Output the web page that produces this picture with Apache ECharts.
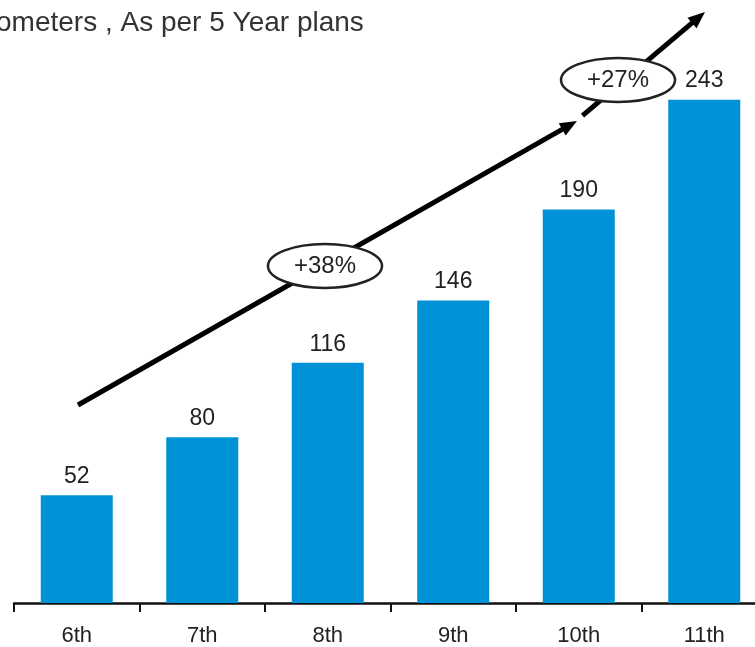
<!DOCTYPE html>
<html><head><meta charset="utf-8">
<script src="https://cdn.jsdelivr.net/npm/echarts@6/dist/echarts.min.js"></script>
<style>html,body{margin:0;padding:0;background:#fff}#c{width:755px;height:647px}</style>
</head><body><div id="c"></div>
<script>
const categories = ['6th', '7th', '8th', '9th', '10th', '11th'];
const values = [52, 80, 116, 146, 190, 243];
const subtitleText = 'ometers , As per 5 Year plans';
const growthLabels = ['+38%', '+27%'];
// arrow segments in data space: [categoryIndex (fractional), value]
const arrow1 = [[0.01, 95.6], [3.986, 232.7]];
const arrow2 = [[4.03, 235.3], [5.006, 285.3]];
// growth label centres in data space
const growthPos = [[1.978, 162.7], [4.313, 252.5]];

const chart = echarts.init(document.getElementById('c'), null, {renderer: 'canvas'});
const FONT = 'Liberation Sans';
chart.setOption({
  animation: false,
  textStyle: {fontFamily: FONT},
  grid: {left: 14, width: 753, top: 23, bottom: 44, containLabel: false, outerBoundsMode: 'none'},
  xAxis: {
    type: 'category', data: categories,
    axisLine: {lineStyle: {color: '#111', width: 2.5}},
    axisTick: {show: true, length: 9, lineStyle: {color: '#111', width: 2}},
    axisLabel: {color: '#222', fontSize: 22, margin: 22, fontFamily: FONT}
  },
  yAxis: {type: 'value', min: 0, max: 280, show: false, splitLine: {show: false}},
  series: [{
    type: 'bar', data: values, barWidth: 72,
    itemStyle: {color: '#0092d6'},
    label: {show: true, position: 'top', distance: 7, color: '#222', fontSize: 23, fontFamily: FONT}
  }]
});

function px(p) {
  const a = chart.convertToPixel({xAxisIndex: 0, yAxisIndex: 0}, [0, p[1]]);
  const b = chart.convertToPixel({xAxisIndex: 0, yAxisIndex: 0}, [1, p[1]]);
  return [a[0] + (b[0] - a[0]) * p[0], a[1]];
}
function arrowGraphics(seg) {
  const a = px(seg[0]), b = px(seg[1]);
  const ang = Math.atan2(b[1] - a[1], b[0] - a[0]);
  const L = 17, W = 7;
  const bx = b[0] - L * Math.cos(ang), by = b[1] - L * Math.sin(ang);
  const nx = -Math.sin(ang), ny = Math.cos(ang);
  return [
    {type: 'line', shape: {x1: a[0], y1: a[1], x2: bx + 2 * Math.cos(ang), y2: by + 2 * Math.sin(ang)}, style: {stroke: '#000', lineWidth: 5}, z: 10},
    {type: 'polygon', shape: {points: [[b[0], b[1]], [bx + nx * W, by + ny * W], [bx - nx * W, by - ny * W]]}, style: {fill: '#000'}, z: 10}
  ];
}
const g = [];
g.push(...arrowGraphics(arrow1));
g.push(...arrowGraphics(arrow2));
growthLabels.forEach((t, i) => {
  const c = px(growthPos[i]);
  g.push({type: 'ellipse', shape: {cx: c[0], cy: c[1], rx: 57, ry: 22}, style: {fill: '#fff', stroke: '#222', lineWidth: 2.5}, z: 20});
  g.push({type: 'text', x: c[0], y: c[1], style: {text: t, fill: '#222', fontSize: 24, fontFamily: FONT, align: 'center', verticalAlign: 'middle'}, z: 21});
});
g.push({type: 'text', x: -4, y: 23, style: {text: subtitleText, fill: '#333', fontSize: 28, fontFamily: FONT, verticalAlign: 'middle'}, z: 30});
chart.setOption({graphic: g});
</script></body></html>
